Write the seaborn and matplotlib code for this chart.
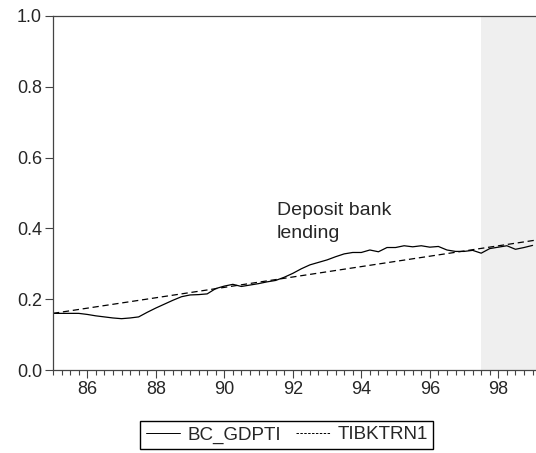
import numpy as np
import pandas as pd
import seaborn as sns
import matplotlib.pyplot as plt
from matplotlib.ticker import MultipleLocator

# quarterly series, 1985Q1 .. 1999Q1
bc_gdpti = [0.160, 0.160, 0.160, 0.160, 0.157, 0.153, 0.150, 0.147,
            0.145, 0.147, 0.150, 0.163, 0.175, 0.186, 0.197, 0.207,
            0.212, 0.213, 0.215, 0.230, 0.237, 0.242, 0.236, 0.240,
            0.244, 0.249, 0.253, 0.262, 0.273, 0.286, 0.297, 0.304,
            0.311, 0.320, 0.328, 0.332, 0.332, 0.339, 0.334, 0.346,
            0.346, 0.351, 0.348, 0.351, 0.347, 0.349, 0.339, 0.335,
            0.335, 0.338, 0.330, 0.343, 0.347, 0.351, 0.341, 0.346,
            0.352]
start_year = 1985
trend_years = [1985.0, 1999.1]
trend_vals = [0.160, 0.367]
shade_span = [1997.5, 1999.1]
year_ticks = [1986, 1988, 1990, 1992, 1994, 1996, 1998]
year_labels = ['86', '88', '90', '92', '94', '96', '98']

t = start_year + np.arange(len(bc_gdpti)) / 4
df = pd.DataFrame({'t': t, 'v': bc_gdpti})
tr = pd.DataFrame({'t': trend_years, 'v': trend_vals})

sns.set_style('ticks')
plt.rcParams['font.family'] = ['Liberation Sans', 'DejaVu Sans']
plt.rcParams['font.size'] = 13

fig = plt.figure(figsize=(5.36, 4.53), dpi=100)
ax = fig.add_axes([0.0989, 0.1832, 0.9011, 0.7815])

ax.axvspan(shade_span[0], shade_span[1], color='#efefef', lw=0, zorder=0)
sns.lineplot(data=df, x='t', y='v', ax=ax, color='black', lw=0.9,
             label='BC_GDPTI', legend=False)
sns.lineplot(data=tr, x='t', y='v', ax=ax, color='black', lw=0.9,
             linestyle=(0, (5, 3)), label='TIBKTRN1', legend=False)

ax.text(1991.53, 0.475, 'Deposit bank\nlending', fontsize=14,
        va='top', ha='left', linespacing=1.45)

ax.set_xlim(1985.0, 1999.1)
ax.set_ylim(0, 1.0)
ax.set_xticks(year_ticks)
ax.set_xticklabels(year_labels)
ax.xaxis.set_minor_locator(MultipleLocator(0.25))
ax.set_yticks([0.0, 0.2, 0.4, 0.6, 0.8, 1.0])
ax.set_yticklabels(['0.0', '0.2', '0.4', '0.6', '0.8', '1.0'])
ax.set_xlabel('')
ax.set_ylabel('')

ax.spines['right'].set_visible(False)
for s in ['left', 'bottom', 'top']:
    ax.spines[s].set_color('#444444')
    ax.spines[s].set_linewidth(0.9)
ax.tick_params(axis='both', which='major', direction='out', length=6,
               width=0.8, color='#444444', labelsize=13, pad=2)
ax.tick_params(axis='x', which='minor', direction='out', length=3.5,
               width=0.8, color='#444444')

h, l = ax.get_legend_handles_labels()
leg = fig.legend(h, l, loc='center', bbox_to_anchor=(0.535, 0.04), ncol=2,
                 fancybox=False, edgecolor='black', framealpha=1,
                 fontsize=13.5, handlelength=1.8, columnspacing=0.8,
                 handletextpad=0.4, borderpad=0.3)
leg.get_lines()[1].set_linestyle((0, (2.5, 1.5)))
leg.get_lines()[1].set_linewidth(0.7)
leg.get_lines()[0].set_linewidth(0.7)

fig.savefig('out.png', dpi=100)
